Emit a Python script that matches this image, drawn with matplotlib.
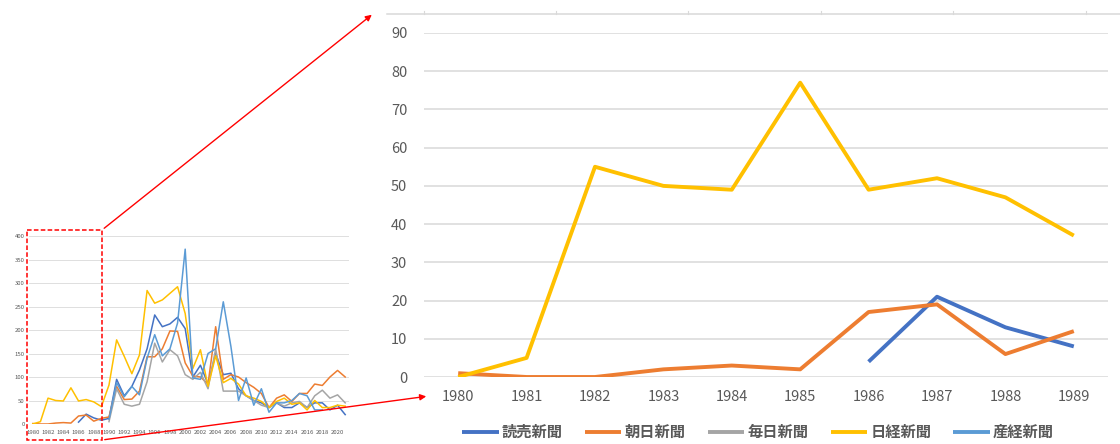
import numpy as np
import matplotlib
matplotlib.use('Agg')
import matplotlib.pyplot as plt
from matplotlib.patches import Rectangle, FancyArrowPatch

plt.rcParams['font.family'] = ['Noto Sans CJK JP', 'DejaVu Sans']

#----------- DATA (articles per year) -----------#
nan = np.nan
years = list(range(1980, 2022))

yomiuri = [nan, nan, nan, nan, nan, nan, 4, 21, 13, 8,
           12, 95, 60, 80, 115, 160, 232, 207, 213, 227,
           203, 100, 125, 85, 150, 105, 108, 75, 60, 50,
           45, 35, 45, 35, 35, 45, 35, 45, 45, 30, 40, 20]
asahi = [1, 0, 0, 2, 3, 2, 17, 19, 6, 12,
         15, 80, 52, 53, 70, 143, 143, 160, 198, 197,
         130, 102, 100, 85, 207, 95, 105, 100, 88, 78,
         65, 35, 55, 62, 48, 65, 65, 85, 82, 100, 114, 100]
mainichi = [nan, nan, nan, nan, nan, nan, nan, nan, nan, nan,
            5, 75, 42, 38, 42, 90, 172, 132, 158, 145,
            105, 95, 110, 75, 160, 70, 70, 70, 60, 50,
            40, 35, 45, 38, 45, 48, 35, 60, 72, 55, 62, 45]
nikkei = [0, 5, 55, 50, 49, 77, 49, 52, 47, 37,
          83, 179, 144, 107, 147, 284, 257, 264, 278, 292,
          235, 118, 158, 80, 145, 88, 97, 85, 60, 55,
          48, 35, 48, 55, 42, 45, 30, 50, 35, 35, 40, 38]
sankei = [nan, nan, nan, nan, nan, nan, nan, nan, nan, nan,
          10, 88, 58, 80, 62, 140, 190, 145, 160, 215,
          372, 98, 95, 150, 160, 260, 165, 50, 98, 40,
          75, 25, 45, 45, 50, 65, 60, 30, 30, nan, nan, nan]

names = ['読売新聞', '朝日新聞', '毎日新聞', '日経新聞', '産経新聞']
colors = ['#4472C4', '#ED7D31', '#A5A5A5', '#FFC000', '#5B9BD5']
series = [yomiuri, asahi, mainichi, nikkei, sankei]

W, H = 1120, 444
fig = plt.figure(figsize=(W / 100, H / 100), dpi=100)

def px_axes(x0, y0, x1, y1, **kw):
    # pixel box (top-left origin) -> figure axes
    return fig.add_axes([x0 / W, 1 - y1 / H, (x1 - x0) / W, (y1 - y0) / H], **kw)

grid_c = '#D9D9D9'
txt_c = '#595959'

#----------- small overview chart -----------#
ax_s = px_axes(29, 236, 349, 424)
xs = np.arange(len(years))
for s, c in zip(series, colors):
    ax_s.plot(xs, s, color=c, lw=1.1)
ax_s.set_xlim(-0.5, len(years) - 0.5)
ax_s.set_ylim(0, 400)
ax_s.set_yticks(range(0, 401, 50))
ax_s.set_xticks(xs[::2])
ax_s.set_xticklabels([str(y) for y in years[::2]])
ax_s.tick_params(axis='both', length=0, labelsize=4.3, colors=txt_c, pad=3)
ax_s.tick_params(axis='x', pad=4)
ax_s.grid(axis='y', color=grid_c, lw=0.6)
ax_s.set_axisbelow(True)
for sp in ax_s.spines.values():
    sp.set_visible(False)

#----------- zoomed chart 1980-1989 -----------#
n = 10
ax = px_axes(424, 33, 1108, 377)
xb = np.arange(n)
lines = []
for s, c, nm in zip(series, colors, names):
    ln, = ax.plot(xb, s[:n], color=c, lw=2.8, label=nm, solid_capstyle='butt')
    lines.append(ln)
ax.set_xlim(-0.5, n - 0.5)
ax.set_ylim(0, 90)
ax.set_yticks(range(0, 91, 10))
ax.set_xticks(xb)
ax.set_xticklabels([str(y) for y in years[:n]])
ax.tick_params(axis='both', length=0, labelsize=10.5, colors=txt_c)
ax.tick_params(axis='x', pad=9)
ax.tick_params(axis='y', pad=12)
ax.grid(axis='y', color=grid_c, lw=1.1)
ax.set_axisbelow(True)
for sp in ax.spines.values():
    sp.set_visible(False)

fig.legend(handles=lines, loc='center', bbox_to_anchor=(758 / W, 1 - 432 / H),
           ncol=5, frameon=False, handlelength=2.4,
           columnspacing=1.45, handletextpad=0.2, labelcolor=txt_c,
           prop={'weight': 'bold', 'size': 11})

#----------- overlay: zoom box, arrows, cropped top axis -----------#
ov = fig.add_axes([0, 0, 1, 1], zorder=10)
ov.set_xlim(0, W)
ov.set_ylim(H, 0)
ov.axis('off')
ov.patch.set_visible(False)

ov.plot([387, W], [14, 14], color=grid_c, lw=1.1)
for tx in [424, 556, 688, 821, 953, 1086]:
    ov.plot([tx, tx], [11, 14], color=grid_c, lw=0.8)

ov.add_patch(Rectangle((27, 230), 75, 210, fill=False, edgecolor='red',
                       lw=1.1, linestyle=(0, (3, 1.5))))
ov.add_patch(FancyArrowPatch((102, 230), (374, 13), arrowstyle='-|>',
                             mutation_scale=9, color='red', lw=1.0))
ov.add_patch(FancyArrowPatch((102, 440), (429, 396), arrowstyle='-|>',
                             mutation_scale=9, color='red', lw=1.0))

fig.savefig('out.png', dpi=100)
